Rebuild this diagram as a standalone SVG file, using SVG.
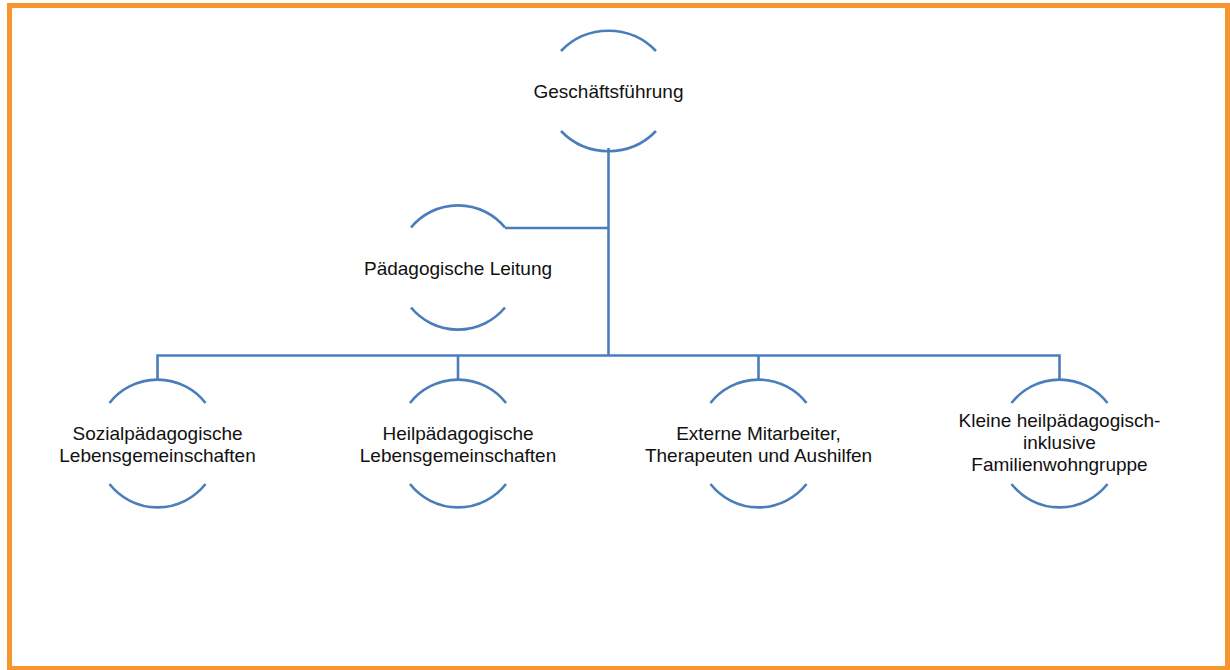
<svg xmlns="http://www.w3.org/2000/svg" width="1230" height="670" viewBox="0 0 1230 670">
<style>
.arc{fill:none;stroke:#4a7ebb;stroke-width:2.6}
.con{fill:none;stroke:#4a7ebb;stroke-width:2.6}
text{font-family:"Liberation Sans",Arial,sans-serif;font-size:19px;fill:#111;text-anchor:middle}
</style>
<rect x="0" y="0" width="1230" height="670" fill="#fff"/>
<rect x="9.5" y="5.5" width="1218" height="663" fill="none" stroke="#f7962e" stroke-width="5"/>
<g id="connectors">
<path class="con" d="M608.5,148 V355"/>
<path class="con" d="M505,228 H608.5"/>
<path class="con" d="M157.5,381 V355.5 H1059.5 V381"/>
<path class="con" d="M458,355.5 V381"/>
<path class="con" d="M758.5,355.5 V381"/>
</g>
<g id="n-gf">
<path class="arc" d="M561,51 A66,66 0 0 1 656,51"/>
<path class="arc" d="M561,131 A66,66 0 0 0 656,131"/>
<text x="608.5" y="98">Geschäftsführung</text>
</g>
<g id="n-pl">
<path class="arc" d="M411,227.5 A61,61 0 0 1 505,227.5"/>
<path class="arc" d="M411,307.5 A61,61 0 0 0 505,307.5"/>
<text x="458" y="275">Pädagogische Leitung</text>
</g>
<g id="n-sl">
<path class="arc" d="M109.5,403 A61,61 0 0 1 205.5,403"/>
<path class="arc" d="M109.5,484 A61,61 0 0 0 205.5,484"/>
<text x="157.5" y="440">Sozialpädagogische</text>
<text x="157.5" y="462">Lebensgemeinschaften</text>
</g>
<g id="n-hl">
<path class="arc" d="M410,403 A61,61 0 0 1 506,403"/>
<path class="arc" d="M410,484 A61,61 0 0 0 506,484"/>
<text x="458" y="440">Heilpädagogische</text>
<text x="458" y="462">Lebensgemeinschaften</text>
</g>
<g id="n-em">
<path class="arc" d="M710.5,403 A61,61 0 0 1 806.5,403"/>
<path class="arc" d="M710.5,484 A61,61 0 0 0 806.5,484"/>
<text x="758.5" y="440">Externe Mitarbeiter,</text>
<text x="758.5" y="462">Therapeuten und Aushilfen</text>
</g>
<g id="n-fw">
<path class="arc" d="M1011.5,403 A61,61 0 0 1 1107.5,403"/>
<path class="arc" d="M1011.5,484 A61,61 0 0 0 1107.5,484"/>
<text x="1059.5" y="427">Kleine heilpädagogisch-</text>
<text x="1059.5" y="449">inklusive</text>
<text x="1059.5" y="471">Familienwohngruppe</text>
</g>
</svg>
